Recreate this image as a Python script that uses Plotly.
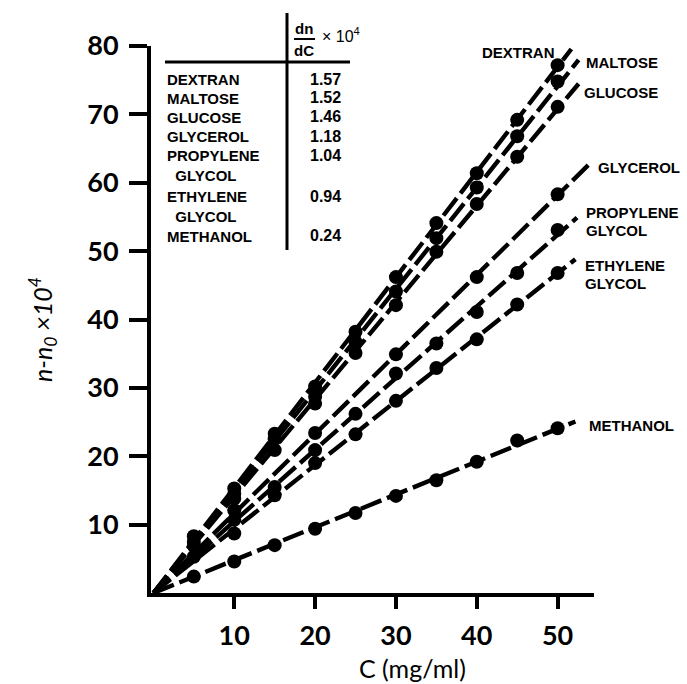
import plotly.graph_objects as go

# ---------------- data ----------------
conc = [5, 10, 15, 20, 25, 30, 35, 40, 45, 50]
dextran = [8.3, 15.3, 23.3, 30.2, 38.2, 46.2, 54.1, 61.4, 69.2, 77.2]
maltose = [7.5, 14.5, 22.5, 28.7, 36.7, 44.1, 51.9, 59.3, 66.8, 74.8]
glucose = [6.9, 13.8, 20.9, 27.7, 35.1, 42.1, 49.9, 56.9, 63.8, 71.1]
glycerol_conc = [10, 20, 30, 40, 50]
glycerol = [12.1, 23.4, 34.9, 46.2, 58.3]
propylene_conc = [5, 10, 15, 20, 25, 30, 35, 40, 45, 50]
propylene = [5.3, 10.7, 15.5, 20.9, 26.2, 32.1, 36.5, 41.1, 46.8, 53.1]
ethylene_conc = [10, 15, 20, 25, 30, 35, 40, 45, 50]
ethylene = [8.7, 14.3, 19.0, 23.2, 28.1, 32.9, 37.1, 42.2, 46.8]
methanol = [2.4, 4.6, 7.0, 9.4, 11.7, 14.2, 16.5, 19.2, 22.3, 24.1]

table_names = ["DEXTRAN", "MALTOSE", "GLUCOSE", "GLYCEROL",
               "PROPYLENE<br>&nbsp;&nbsp;GLYCOL", "ETHYLENE<br>&nbsp;&nbsp;GLYCOL", "METHANOL"]
table_values = ["1.57", "1.52", "1.46", "1.18", "1.04", "0.94", "0.24"]

x_ticks = [10, 20, 30, 40, 50]
y_ticks = [10, 20, 30, 40, 50, 60, 70, 80]

series = [
    ("Dextran", conc, dextran, 1.7),
    ("Maltose", conc, maltose, 2.6),
    ("Glucose", conc, glucose, 2.6),
    ("Glycerol", glycerol_conc, glycerol, 4.2),
    ("Propylene glycol", propylene_conc, propylene, 2.4),
    ("Ethylene glycol", ethylene_conc, ethylene, 2.2),
    ("Methanol", conc, methanol, 2.2),
]

# ---------------- layout geometry ----------------
W, H = 687, 684
L, R, T, B = 151, 93, 46, 91
PW, PH = W - L - R, H - T - B


def px(x):
    return (x - L) / PW


def py(y):
    return (H - B - y) / PH


fig = go.Figure()

for name, xs, ys, ext in series:
    k = sum(a * b for a, b in zip(xs, ys)) / sum(a * a for a in xs)
    xe = xs[-1] + ext
    fig.add_trace(go.Scatter(
        x=[0, xe], y=[0, k * xe], mode="lines",
        line=dict(color="black", width=4.4, dash="22px,6px"),
        showlegend=False, hoverinfo="skip"))
    fig.add_trace(go.Scatter(
        x=xs, y=ys, mode="markers", name=name,
        marker=dict(color="black", size=14, line=dict(width=0)),
        showlegend=False))

tick_font = dict(family="Lato", size=27, color="black", weight="bold")

fig.update_xaxes(range=[-0.3, 54.5], tickvals=x_ticks, ticks="outside", ticklen=12,
                 tickwidth=3.5, tickcolor="black", showline=True, linewidth=4,
                 linecolor="black", showgrid=False, zeroline=False, tickfont=tick_font,
                 ticklabelstandoff=4)
fig.update_yaxes(range=[0, 80], tickvals=y_ticks, ticks="outside", ticklen=18,
                 tickwidth=3.5, tickcolor="black", showline=True, linewidth=4,
                 linecolor="black", showgrid=False, zeroline=False, tickfont=tick_font,
                 ticklabelstandoff=5)

annotations = []
lab_font = dict(family="Liberation Sans", size=15, color="black", weight="bold")
val_font = dict(family="Liberation Sans", size=16, color="black", weight="bold")

# table rows (y = centre of the first text line, in pixels)
row_y = [79, 98, 117, 136, 155, 196, 236]
for nm, val, y in zip(table_names, table_values, row_y):
    annotations.append(dict(x=px(166), y=py(y - 9), xref="paper", yref="paper", text=nm,
                            showarrow=False, xanchor="left", yanchor="top", align="left",
                            font=lab_font, borderpad=0))
    annotations.append(dict(x=px(325), y=py(y), xref="paper", yref="paper", text=val,
                            showarrow=False, xanchor="center", yanchor="middle",
                            font=val_font, borderpad=0))

# table header
hdr_font = dict(family="Liberation Sans", size=15, color="black", weight="bold")
annotations.append(dict(x=px(304), y=py(29), xref="paper", yref="paper", text="dn",
                        showarrow=False, xanchor="center", yanchor="middle", font=hdr_font))
annotations.append(dict(x=px(304), y=py(50), xref="paper", yref="paper", text="dC",
                        showarrow=False, xanchor="center", yanchor="middle", font=hdr_font))
annotations.append(dict(x=px(320), y=py(35), xref="paper", yref="paper",
                        text="× 10<sup>4</sup>", showarrow=False, xanchor="left",
                        yanchor="middle", font=dict(family="Liberation Sans", size=16, color="black")))

# labels at line ends
right_labels = [
    ("DEXTRAN", 556, 52, "right"),
    ("MALTOSE", 585, 62, "left"),
    ("GLUCOSE", 583, 92, "left"),
    ("GLYCEROL", 597, 167, "left"),
    ("PROPYLENE", 585, 212, "left"),
    ("GLYCOL", 585, 230, "left"),
    ("ETHYLENE", 584, 265, "left"),
    ("GLYCOL", 584, 283, "left"),
    ("METHANOL", 588, 425, "left"),
]
big_lab = dict(family="Liberation Sans", size=15, color="black", weight="bold")
for txt, x, y, anc in right_labels:
    annotations.append(dict(x=px(x), y=py(y), xref="paper", yref="paper", text=txt,
                            showarrow=False, xanchor=anc, yanchor="middle", font=big_lab,
                            borderpad=0))

# axis titles
annotations.append(dict(x=px(412), y=py(668), xref="paper", yref="paper", text="C (mg/ml)",
                        showarrow=False, xanchor="center", yanchor="middle",
                        font=dict(family="Lato", size=25, color="black")))
annotations.append(dict(x=px(42), y=py(330), xref="paper", yref="paper",
                        text="<i>n-n<sub>0</sub> ×10<sup>4</sup></i>", textangle=-90,
                        showarrow=False, xanchor="center", yanchor="middle",
                        font=dict(family="Lato", size=25, color="black")))

shapes = [
    dict(type="line", xref="paper", yref="paper", x0=px(165), x1=px(350), y0=py(62), y1=py(62),
         line=dict(color="black", width=3)),
    dict(type="line", xref="paper", yref="paper", x0=px(287), x1=px(287), y0=py(13), y1=py(250),
         line=dict(color="black", width=3)),
    dict(type="line", xref="paper", yref="paper", x0=px(294), x1=px(315), y0=py(39), y1=py(39),
         line=dict(color="black", width=2)),
]

fig.update_layout(width=W, height=H, margin=dict(l=L, r=R, t=T, b=B),
                  paper_bgcolor="white", plot_bgcolor="white",
                  annotations=annotations, shapes=shapes, showlegend=False)

fig.write_html("out.html", config={"displayModeBar": False},
               post_script="document.body.style.margin='0px';document.body.style.overflow='hidden';")
